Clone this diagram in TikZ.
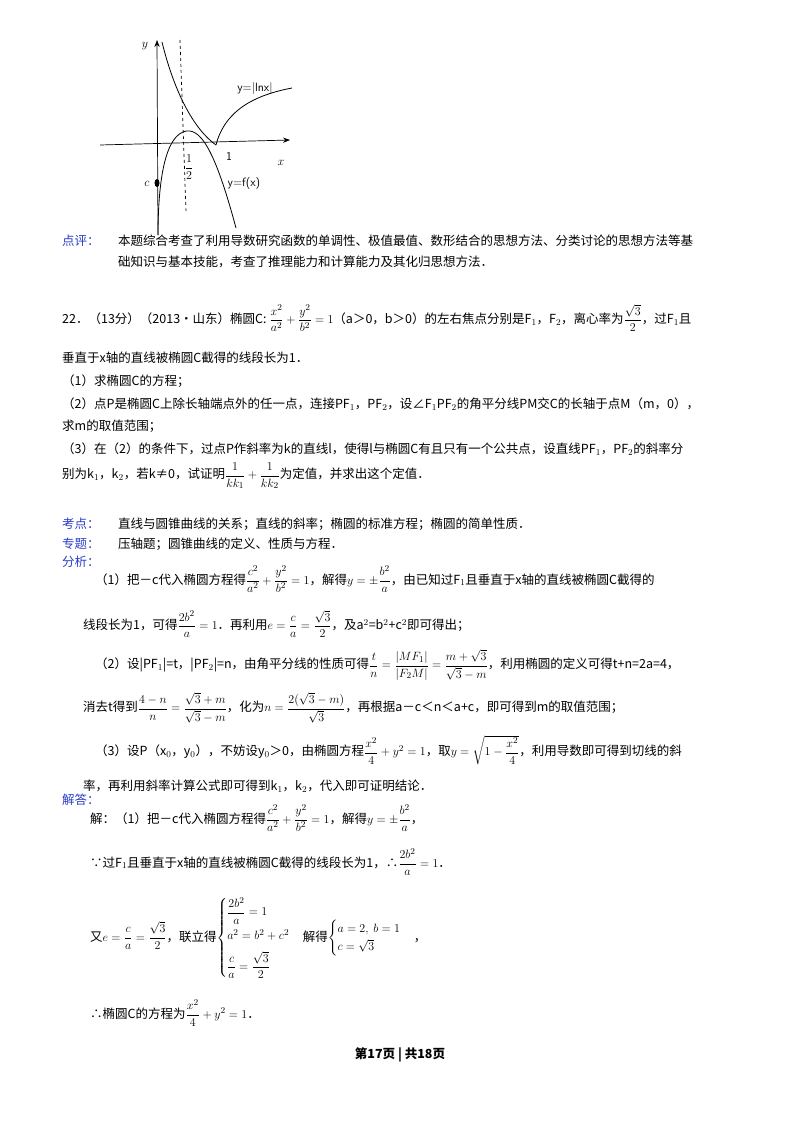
\documentclass[tikz,border=0pt]{standalone}
\usepackage{amsmath}
\usepackage{fontspec}
\setmainfont{Noto Sans CJK SC}
\usetikzlibrary{arrows.meta}
\definecolor{lab}{RGB}{40,60,200}
\tikzset{
 ln/.style={anchor=west,inner sep=0pt,font=\fontsize{12.5}{15}\selectfont},
 lb/.style={anchor=west,inner sep=0pt,text=lab,font=\fontsize{12.5}{15}\selectfont},
 ax/.style={-{Stealth[length=7pt]},line width=0.7pt},
 cv/.style={line width=0.8pt},
 gl/.style={inner sep=1pt,font=\sffamily\fontsize{12}{14}\selectfont}
}
\begin{document}
\begin{tikzpicture}[x=1pt,y=-1pt]
\useasboundingbox (0,0) rectangle (800,1132);
% graph
\draw[ax] (100,145) -- (290,140);
\draw[ax] (158,235) -- (157,40);
\draw[dashed,line width=0.7pt] (180,40) -- (186,212);
\draw[cv] (162,42) .. controls (175,95) and (195,130) .. (216,145);
\draw[cv] (216,145) .. controls (225,110) and (255,95) .. (292,88);
\draw[cv] (158,235) .. controls (158,190) and (163,140) .. (183,132) .. controls (200,125) and (215,150) .. (236,228);
\fill (157,183) ellipse (2.5 and 4);
\node[gl] (c) at (147,184) {$c$};
\node[gl] (lab1) at (255,88) {y=|lnx|};
\node[gl] (lab2) at (244,184) {y=f(x)};
\node[gl] (one) at (229,156) {1};
\node[gl] (xx) at (281,163) {$x$};
\node[gl] (yy) at (145,46) {$y$};
\node[gl] (half) at (189,167) {$\dfrac{1}{2}$};
% text
\node[lb] (t0) at (62,241) {点评：};
\node[ln] at (118,241) {本题综合考查了利用导数研究函数的单调性、极值最值、数形结合的思想方法、分类讨论的思想方法等基};
\node[ln] at (118,262) {础知识与基本技能，考查了推理能力和计算能力及其化归思想方法．};
\node[ln] at (62,318) {22．（13分）（2013•山东）椭圆C: $\dfrac{x^2}{a^2}+\dfrac{y^2}{b^2}=1$（a＞0，b＞0）的左右焦点分别是F$_1$，F$_2$，离心率为$\dfrac{\sqrt3}{2}$，过F$_1$且};
\node[ln] at (62,358) {垂直于x轴的直线被椭圆C截得的线段长为1．};
\node[ln] at (62,381) {（1）求椭圆C的方程；};
\node[ln] at (62,404) {（2）点P是椭圆C上除长轴端点外的任一点，连接PF$_1$，PF$_2$，设∠F$_1$PF$_2$的角平分线PM交C的长轴于点M（m，0），};
\node[ln] at (62,426) {求m的取值范围；};
\node[ln] at (62,449) {（3）在（2）的条件下，过点P作斜率为k的直线l，使得l与椭圆C有且只有一个公共点，设直线PF$_1$，PF$_2$的斜率分};
\node[ln] at (62,476) {别为k$_1$，k$_2$，若k≠0，试证明$\dfrac{1}{kk_1}+\dfrac{1}{kk_2}$为定值，并求出这个定值．};
\node[lb] at (62,524) {考点：};
\node[ln] at (118,524) {直线与圆锥曲线的关系；直线的斜率；椭圆的标准方程；椭圆的简单性质．};
\node[lb] at (62,544) {专题：};
\node[ln] at (118,544) {压轴题；圆锥曲线的定义、性质与方程．};
\node[lb] at (62,562) {分析：};
\node[ln] at (95,579) {（1）把－c代入椭圆方程得$\dfrac{c^2}{a^2}+\dfrac{y^2}{b^2}=1$，解得$y=\pm\dfrac{b^2}{a}$，由已知过F$_1$且垂直于x轴的直线被椭圆C截得的};
\node[ln] at (83,624) {线段长为1，可得$\dfrac{2b^2}{a}=1$．再利用$e=\dfrac{c}{a}=\dfrac{\sqrt3}{2}$，及a$^2$=b$^2$+c$^2$即可得出；};
\node[ln] at (95,665) {（2）设|PF$_1$|=t，|PF$_2$|=n，由角平分线的性质可得$\dfrac{t}{n}=\dfrac{|MF_1|}{|F_2M|}=\dfrac{m+\sqrt3}{\sqrt3-m}$，利用椭圆的定义可得t+n=2a=4，};
\node[ln] at (83,708) {消去t得到$\dfrac{4-n}{n}=\dfrac{\sqrt3+m}{\sqrt3-m}$，化为$n=\dfrac{2(\sqrt3-m)}{\sqrt3}$，再根据a－c＜n＜a+c，即可得到m的取值范围；};
\node[ln] at (95,750) {（3）设P（x$_0$，y$_0$），不妨设y$_0$＞0，由椭圆方程$\dfrac{x^2}{4}+y^2=1$，取$y=\sqrt{1-\dfrac{x^2}{4}}$，利用导数即可得到切线的斜};
\node[ln] at (83,786) {率，再利用斜率计算公式即可得到k$_1$，k$_2$，代入即可证明结论．};
\node[lb] at (62,800) {解答：};
\node[ln] at (90,818) {解：（1）把－c代入椭圆方程得$\dfrac{c^2}{a^2}+\dfrac{y^2}{b^2}=1$，解得$y=\pm\dfrac{b^2}{a}$，};
\node[ln] at (90,862) {∵过F$_1$且垂直于x轴的直线被椭圆C截得的线段长为1，∴$\dfrac{2b^2}{a}=1$．};
\node[ln] at (90,938) {又$e=\dfrac{c}{a}=\dfrac{\sqrt3}{2}$，联立得$\begin{cases}\dfrac{2b^2}{a}=1\\[6pt] a^2=b^2+c^2\\[6pt] \dfrac{c}{a}=\dfrac{\sqrt3}{2}\end{cases}$解得$\begin{cases}a=2,\ b=1\\ c=\sqrt3\end{cases}$，};
\node[ln] at (90,1013) {∴椭圆C的方程为$\dfrac{x^2}{4}+y^2=1$．};
\node[inner sep=0pt,font=\bfseries\fontsize{12.5}{15}\selectfont] at (400,1055) {第17页 | 共18页};
\end{tikzpicture}
\end{document}
